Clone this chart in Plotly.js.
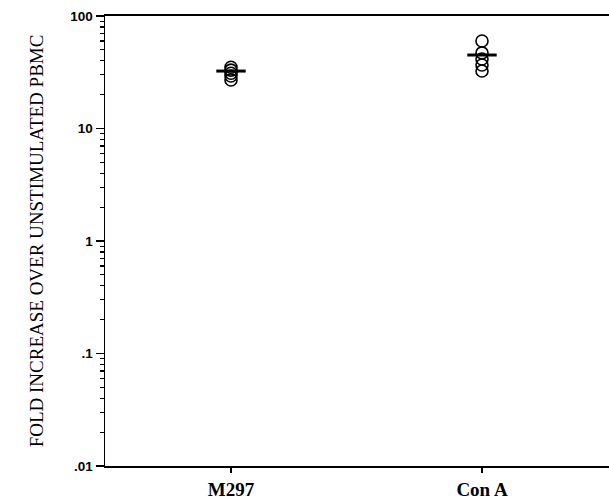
<!DOCTYPE html>
<html><head><meta charset="utf-8">
<script src="https://cdn.plot.ly/plotly-3.0.1.min.js"></script>
<style>body{margin:0;background:#fff}</style></head>
<body><div id="chart" style="width:609px;height:501px"></div>
<script>
const categories = ["M297", "Con A"];
const m297Values = [35, 33, 31, 29.3, 27];
const conAValues = [60, 47, 41.5, 36.7, 32.4];
const meanValues = [32.4, 45];
const yTickVals = [0.01, 0.1, 1, 10, 100];
const yTickText = [".01", ".1", "1", "10", "100"];

const minorVals = [];
for (let d = -2; d < 2; d++) for (let k = 2; k <= 9; k++) minorVals.push(k * Math.pow(10, d));

const circleMarker = {symbol: "circle-open", size: 12, color: "#000", line: {width: 1.6, color: "#000"}};
const traces = [
  {x: m297Values.map(() => categories[0]), y: m297Values, type: "scatter", mode: "markers", marker: circleMarker, hoverinfo: "y"},
  {x: conAValues.map(() => categories[1]), y: conAValues, type: "scatter", mode: "markers", marker: circleMarker, hoverinfo: "y"},
  {x: categories, y: meanValues, type: "scatter", mode: "markers",
   marker: {symbol: "line-ew", size: 21, line: {width: 3, color: "#000"}}, hoverinfo: "y"}
];

const layout = {
  width: 609, height: 501,
  margin: {l: 105, r: 0, t: 16, b: 35},
  showlegend: false,
  paper_bgcolor: "#fff", plot_bgcolor: "#fff",
  xaxis: {
    type: "category", range: [-0.502, 1.506],
    showline: true, linewidth: 2, linecolor: "#000", mirror: true,
    ticks: "outside", ticklen: 5, tickwidth: 2, tickcolor: "#000",
    showgrid: false, zeroline: false,
    tickfont: {family: "Liberation Serif", size: 19, weight: "bold", color: "#000"}
  },
  yaxis: {
    type: "log", range: [-2, 2],
    tickmode: "array", tickvals: yTickVals, ticktext: yTickText,
    showline: true, linewidth: 1.5, linecolor: "#000",
    ticks: "outside", ticklen: 8, tickwidth: 1.5, tickcolor: "#000",
    minor: {tickmode: "array", tickvals: minorVals, ticks: "outside", ticklen: 4, tickwidth: 1.2, tickcolor: "#000", showgrid: false},
    showgrid: false, zeroline: false,
    tickfont: {family: "Liberation Sans", size: 13.5, weight: "bold", color: "#000"},
    title: {text: "FOLD INCREASE OVER UNSTIMULATED PBMC", standoff: 21,
            font: {family: "Liberation Serif", size: 19, color: "#000"}}
  }
};

Plotly.newPlot("chart", traces, layout, {displayModeBar: false, staticPlot: true});
</script></body></html>
